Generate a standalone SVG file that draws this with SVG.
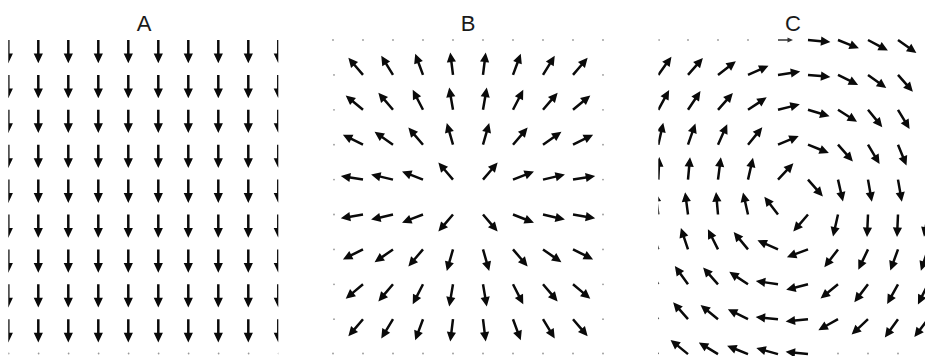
<svg xmlns="http://www.w3.org/2000/svg" xmlns:xlink="http://www.w3.org/1999/xlink" width="925" height="356" viewBox="0 0 925 356">
<style>
.t{font-family:"Liberation Sans",Arial,sans-serif;font-size:22px;fill:#1a1a1a;text-anchor:middle}
.ar{fill:#0a0a0a}
.dot{fill:#999}
</style>
<defs>
<path id="a" class="ar" d="M0,-1.25H13V-4.6L22.5,0L13,4.6V1.25H0Z"/>
<path id="ad" class="ar" d="M-1.25,0V13.5H-4.6L0,23.3L4.6,13.5H1.25V0Z"/>
<path id="as" fill="#333" d="M0,-0.7H9.5V-2.6L15,0L9.5,2.6V0.7H0Z"/>
<circle id="d" class="dot" r="0.9"/>
<clipPath id="clipA"><rect x="8.3" y="0" width="270" height="356"/></clipPath>
<clipPath id="clipC"><rect x="658.3" y="0" width="300" height="356"/></clipPath>
<g id="arow">
<use href="#ad" x="8.3"/><use href="#ad" x="38.3"/><use href="#ad" x="68.3"/><use href="#ad" x="98.3"/><use href="#ad" x="128.3"/>
<use href="#ad" x="158.3"/><use href="#ad" x="188.3"/><use href="#ad" x="218.3"/><use href="#ad" x="248.3"/><use href="#ad" x="278.3"/>
</g>
<g id="drow">
<use href="#d" x="0"/><use href="#d" x="30"/><use href="#d" x="60"/><use href="#d" x="90"/><use href="#d" x="120"/>
<use href="#d" x="150"/><use href="#d" x="180"/><use href="#d" x="210"/><use href="#d" x="240"/><use href="#d" x="270"/>
</g>
</defs>
<rect width="925" height="356" fill="#fff"/>

<g id="titles">
<text class="t" x="144" y="31">A</text>
<text class="t" x="468" y="31">B</text>
<text class="t" x="793" y="31">C</text>
</g>

<g id="panelA" clip-path="url(#clipA)">
<use href="#arow" y="40"/>
<use href="#arow" y="74.9"/>
<use href="#arow" y="109.8"/>
<use href="#arow" y="144.7"/>
<use href="#arow" y="179.6"/>
<use href="#arow" y="214.5"/>
<use href="#arow" y="249.4"/>
<use href="#arow" y="284.3"/>
<use href="#arow" y="319.2"/>
<use href="#drow" x="8.6" y="353.5"/>
</g>

<g id="panelB">
<use href="#drow" x="333" y="40"/>
<use href="#drow" x="333" y="353.5"/>
<g>
<use href="#d" x="334" y="74.9"/><use href="#d" x="334" y="109.8"/><use href="#d" x="334" y="144.7"/><use href="#d" x="334" y="179.6"/>
<use href="#d" x="334" y="214.5"/><use href="#d" x="334" y="249.4"/><use href="#d" x="334" y="284.3"/><use href="#d" x="334" y="319.2"/>
<use href="#d" x="603" y="74.9"/><use href="#d" x="603" y="109.8"/><use href="#d" x="603" y="144.7"/><use href="#d" x="603" y="179.6"/>
<use href="#d" x="603" y="214.5"/><use href="#d" x="603" y="249.4"/><use href="#d" x="603" y="284.3"/><use href="#d" x="603" y="319.2"/>
</g>
<use href="#a" transform="translate(363,74.9) rotate(-130.6)"/>
<use href="#a" transform="translate(393,74.9) rotate(-121.5)"/>
<use href="#a" transform="translate(423,74.9) rotate(-110.2)"/>
<use href="#a" transform="translate(453,74.9) rotate(-97)"/>
<use href="#a" transform="translate(483,74.9) rotate(-83)"/>
<use href="#a" transform="translate(513,74.9) rotate(-69.8)"/>
<use href="#a" transform="translate(543,74.9) rotate(-58.5)"/>
<use href="#a" transform="translate(573,74.9) rotate(-49.4)"/>

<use href="#a" transform="translate(363,109.8) rotate(-140.2)"/>
<use href="#a" transform="translate(393,109.8) rotate(-130.6)"/>
<use href="#a" transform="translate(423,109.8) rotate(-117.2)"/>
<use href="#a" transform="translate(453,109.8) rotate(-99.7)"/>
<use href="#a" transform="translate(483,109.8) rotate(-80.3)"/>
<use href="#a" transform="translate(513,109.8) rotate(-62.8)"/>
<use href="#a" transform="translate(543,109.8) rotate(-49.4)"/>
<use href="#a" transform="translate(573,109.8) rotate(-39.8)"/>

<use href="#a" transform="translate(363,144.7) rotate(-153.4)"/>
<use href="#a" transform="translate(393,144.7) rotate(-145)"/>
<use href="#a" transform="translate(423,144.7) rotate(-130.6)"/>
<use href="#a" transform="translate(453,144.7) rotate(-106)"/>
<use href="#a" transform="translate(483,144.7) rotate(-74)"/>
<use href="#a" transform="translate(513,144.7) rotate(-49.4)"/>
<use href="#a" transform="translate(543,144.7) rotate(-35)"/>
<use href="#a" transform="translate(573,144.7) rotate(-26.6)"/>

<use href="#a" transform="translate(363,179.6) rotate(-170.5)"/>
<use href="#a" transform="translate(393,179.6) rotate(-166.9)"/>
<use href="#a" transform="translate(423,179.6) rotate(-158.8)"/>
<use href="#a" transform="translate(453,179.6) rotate(-130.6)"/>
<use href="#a" transform="translate(483,179.6) rotate(-49.4)"/>
<use href="#a" transform="translate(513,179.6) rotate(-21.3)"/>
<use href="#a" transform="translate(543,179.6) rotate(-13.1)"/>
<use href="#a" transform="translate(573,179.6) rotate(-9.5)"/>

<use href="#a" transform="translate(363,214.5) rotate(170.5)"/>
<use href="#a" transform="translate(393,214.5) rotate(166.9)"/>
<use href="#a" transform="translate(423,214.5) rotate(158.8)"/>
<use href="#a" transform="translate(453,214.5) rotate(130.6)"/>
<use href="#a" transform="translate(483,214.5) rotate(49.4)"/>
<use href="#a" transform="translate(513,214.5) rotate(21.3)"/>
<use href="#a" transform="translate(543,214.5) rotate(13.1)"/>
<use href="#a" transform="translate(573,214.5) rotate(9.5)"/>

<use href="#a" transform="translate(363,249.4) rotate(153.4)"/>
<use href="#a" transform="translate(393,249.4) rotate(145)"/>
<use href="#a" transform="translate(423,249.4) rotate(130.6)"/>
<use href="#a" transform="translate(453,249.4) rotate(106)"/>
<use href="#a" transform="translate(483,249.4) rotate(74)"/>
<use href="#a" transform="translate(513,249.4) rotate(49.4)"/>
<use href="#a" transform="translate(543,249.4) rotate(35)"/>
<use href="#a" transform="translate(573,249.4) rotate(26.6)"/>

<use href="#a" transform="translate(363,284.3) rotate(140.2)"/>
<use href="#a" transform="translate(393,284.3) rotate(130.6)"/>
<use href="#a" transform="translate(423,284.3) rotate(117.2)"/>
<use href="#a" transform="translate(453,284.3) rotate(99.7)"/>
<use href="#a" transform="translate(483,284.3) rotate(80.3)"/>
<use href="#a" transform="translate(513,284.3) rotate(62.8)"/>
<use href="#a" transform="translate(543,284.3) rotate(49.4)"/>
<use href="#a" transform="translate(573,284.3) rotate(39.8)"/>

<use href="#a" transform="translate(363,319.2) rotate(130.6)"/>
<use href="#a" transform="translate(393,319.2) rotate(121.5)"/>
<use href="#a" transform="translate(423,319.2) rotate(110.2)"/>
<use href="#a" transform="translate(453,319.2) rotate(97)"/>
<use href="#a" transform="translate(483,319.2) rotate(83)"/>
<use href="#a" transform="translate(513,319.2) rotate(69.8)"/>
<use href="#a" transform="translate(543,319.2) rotate(58.5)"/>
<use href="#a" transform="translate(573,319.2) rotate(49.4)"/>
</g>

<g id="panelC" clip-path="url(#clipC)">
<use href="#d" x="659" y="40"/><use href="#d" x="688" y="40"/><use href="#d" x="718" y="40"/><use href="#d" x="748" y="40"/>
<use href="#as" transform="translate(778,40)"/>
<use href="#a" transform="translate(808,40) rotate(5.2)"/>
<use href="#a" transform="translate(838,40) rotate(21.8)"/>
<use href="#a" transform="translate(868,40) rotate(27.8)"/>
<use href="#a" transform="translate(898,40) rotate(35.2)"/>

<use href="#a" transform="translate(658.3,74.9) rotate(-54.2)"/>
<use href="#a" transform="translate(688,74.9) rotate(-48.6)"/>
<use href="#a" transform="translate(718,74.9) rotate(-37.4)"/>
<use href="#a" transform="translate(748,74.9) rotate(-24.2)"/>
<use href="#a" transform="translate(778,74.9) rotate(-8.5)"/>
<use href="#a" transform="translate(808,74.9) rotate(5.2)"/>
<use href="#a" transform="translate(838,74.9) rotate(26.6)"/>
<use href="#a" transform="translate(868,74.9) rotate(35.8)"/>
<use href="#a" transform="translate(898,74.9) rotate(48.6)"/>

<use href="#a" transform="translate(658.3,109.8) rotate(-61.2)"/>
<use href="#a" transform="translate(688,109.8) rotate(-56.3)"/>
<use href="#a" transform="translate(718,109.8) rotate(-48.6)"/>
<use href="#a" transform="translate(748,109.8) rotate(-33.7)"/>
<use href="#a" transform="translate(778,109.8) rotate(-14)"/>
<use href="#a" transform="translate(808,109.8) rotate(16.7)"/>
<use href="#a" transform="translate(838,109.8) rotate(32.3)"/>
<use href="#a" transform="translate(868,109.8) rotate(50.5)"/>
<use href="#a" transform="translate(898,109.8) rotate(59)"/>

<use href="#a" transform="translate(658.3,144.7) rotate(-77.2)"/>
<use href="#a" transform="translate(688,144.7) rotate(-70.7)"/>
<use href="#a" transform="translate(718,144.7) rotate(-65.8)"/>
<use href="#a" transform="translate(748,144.7) rotate(-50.5)"/>
<use href="#a" transform="translate(778,144.7) rotate(-22.8)"/>
<use href="#a" transform="translate(808,144.7) rotate(21.8)"/>
<use href="#a" transform="translate(838,144.7) rotate(48.6)"/>
<use href="#a" transform="translate(868,144.7) rotate(59)"/>
<use href="#a" transform="translate(898,144.7) rotate(67.8)"/>

<use href="#a" transform="translate(658.3,179.6) rotate(-87.5)"/>
<use href="#a" transform="translate(688,179.6) rotate(-84.8)"/>
<use href="#a" transform="translate(718,179.6) rotate(-82.6)"/>
<use href="#a" transform="translate(748,179.6) rotate(-77.2)"/>
<use href="#a" transform="translate(778,179.6) rotate(-46.8)"/>
<use href="#a" transform="translate(808,179.6) rotate(48.6)"/>
<use href="#a" transform="translate(838,179.6) rotate(77.2)"/>
<use href="#a" transform="translate(868,179.6) rotate(80.1)"/>
<use href="#a" transform="translate(898,179.6) rotate(80.1)"/>

<use href="#a" transform="translate(658.3,214.5) rotate(-97.8)"/>
<use href="#a" transform="translate(688,214.5) rotate(-97.4)"/>
<use href="#a" transform="translate(718,214.5) rotate(-95)"/>
<use href="#a" transform="translate(748,214.5) rotate(-102.8)"/>
<use href="#a" transform="translate(778,214.5) rotate(-127.4)"/>
<use href="#a" transform="translate(808,214.5) rotate(130.9)"/>
<use href="#a" transform="translate(838,214.5) rotate(102.8)"/>
<use href="#a" transform="translate(868,214.5) rotate(92.5)"/>
<use href="#a" transform="translate(898,214.5) rotate(92.5)"/>
<use href="#a" transform="translate(928,214.5) rotate(100.3)"/>

<use href="#a" transform="translate(658.3,249.4) rotate(-110.9)"/>
<use href="#a" transform="translate(688,249.4) rotate(-108.4)"/>
<use href="#a" transform="translate(718,249.4) rotate(-116.6)"/>
<use href="#a" transform="translate(748,249.4) rotate(-129.5)"/>
<use href="#a" transform="translate(778,249.4) rotate(-156)"/>
<use href="#a" transform="translate(808,249.4) rotate(159.8)"/>
<use href="#a" transform="translate(838,249.4) rotate(127.4)"/>
<use href="#a" transform="translate(868,249.4) rotate(115.5)"/>
<use href="#a" transform="translate(898,249.4) rotate(110)"/>
<use href="#a" transform="translate(928,249.4) rotate(108.4)"/>

<use href="#a" transform="translate(658.3,284.3) rotate(-123.7)"/>
<use href="#a" transform="translate(688,284.3) rotate(-125.8)"/>
<use href="#a" transform="translate(718,284.3) rotate(-131.4)"/>
<use href="#a" transform="translate(748,284.3) rotate(-146.3)"/>
<use href="#a" transform="translate(778,284.3) rotate(-171.5)"/>
<use href="#a" transform="translate(808,284.3) rotate(166)"/>
<use href="#a" transform="translate(838,284.3) rotate(140.9)"/>
<use href="#a" transform="translate(868,284.3) rotate(127.4)"/>
<use href="#a" transform="translate(898,284.3) rotate(118.8)"/>
<use href="#a" transform="translate(928,284.3) rotate(116.6)"/>

<use href="#a" transform="translate(658.3,319.2) rotate(-131.2)"/>
<use href="#a" transform="translate(688,319.2) rotate(-131.4)"/>
<use href="#a" transform="translate(718,319.2) rotate(-140.9)"/>
<use href="#a" transform="translate(748,319.2) rotate(-153.4)"/>
<use href="#a" transform="translate(778,319.2) rotate(-174.3)"/>
<use href="#a" transform="translate(808,319.2) rotate(174.3)"/>
<use href="#a" transform="translate(838,319.2) rotate(150.9)"/>
<use href="#a" transform="translate(868,319.2) rotate(136.8)"/>
<use href="#a" transform="translate(898,319.2) rotate(125.8)"/>
<use href="#a" transform="translate(928,319.2) rotate(127.4)"/>

<use href="#a" transform="translate(658.3,354.1) rotate(-140.9)"/>
<use href="#a" transform="translate(688,354.1) rotate(-140.9)"/>
<use href="#a" transform="translate(718,354.1) rotate(-148.6)"/>
<use href="#a" transform="translate(748,354.1) rotate(-158.2)"/>
<use href="#a" transform="translate(778,354.1) rotate(-164.5)"/>
<use href="#a" transform="translate(808,354.1) rotate(-174.3)"/>
<use href="#d" x="838" y="353.5"/><use href="#d" x="868" y="353.5"/><use href="#d" x="898" y="353.5"/>
</g>
</svg>
